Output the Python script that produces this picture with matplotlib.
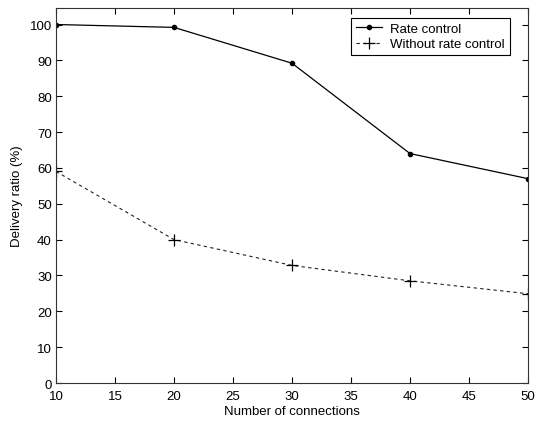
import matplotlib
matplotlib.use("Agg")
import matplotlib.pyplot as plt

# Data
connections = [10, 20, 30, 40, 50]
rate_control = [100.0, 99.2, 89.2, 64.0, 57.0]
without_rate_control = [59.0, 40.0, 32.8, 28.5, 24.9]

x_ticks = [10, 15, 20, 25, 30, 35, 40, 45, 50]
y_ticks = [0, 10, 20, 30, 40, 50, 60, 70, 80, 90, 100]

plt.rcParams["font.family"] = ["Liberation Sans", "DejaVu Sans"]
plt.rcParams["font.size"] = 9.5

fig = plt.figure(figsize=(5.35, 4.27), dpi=100)
ax = fig.add_axes([0.1047, 0.1007, 0.8822, 0.879])

ax.plot(connections, rate_control, color="black", linestyle="-", linewidth=0.9,
        marker=".", markersize=6, label="Rate control")
ax.plot(connections, without_rate_control, color="#222222", linestyle=(0, (3, 3)),
        linewidth=0.8, marker="+", markersize=9, markeredgewidth=0.9,
        markeredgecolor="black", label="Without rate control")

ax.set_xlim(10, 50)
ax.set_ylim(0, 104.7)
ax.set_xticks(x_ticks)
ax.set_yticks(y_ticks)
ax.tick_params(direction="in", top=True, right=True, length=4, width=0.8,
               labelsize=9.5)
ax.tick_params(axis="x", pad=5)
ax.tick_params(axis="y", pad=3)
for spine in ax.spines.values():
    spine.set_linewidth(0.8)
    spine.set_color("#333333")

ax.set_xlabel("Number of connections", fontsize=9.5, labelpad=2)
ax.set_ylabel("Delivery ratio (%)", fontsize=9.5, labelpad=5)

leg = ax.legend(loc="upper right", bbox_to_anchor=(0.975, 0.99), fancybox=False,
                framealpha=1, edgecolor="black", fontsize=9.5, handlelength=2.0,
                borderpad=0.35, labelspacing=0.25, handletextpad=0.6)
leg.get_frame().set_linewidth(0.8)

fig.savefig("out.png", dpi=100)
